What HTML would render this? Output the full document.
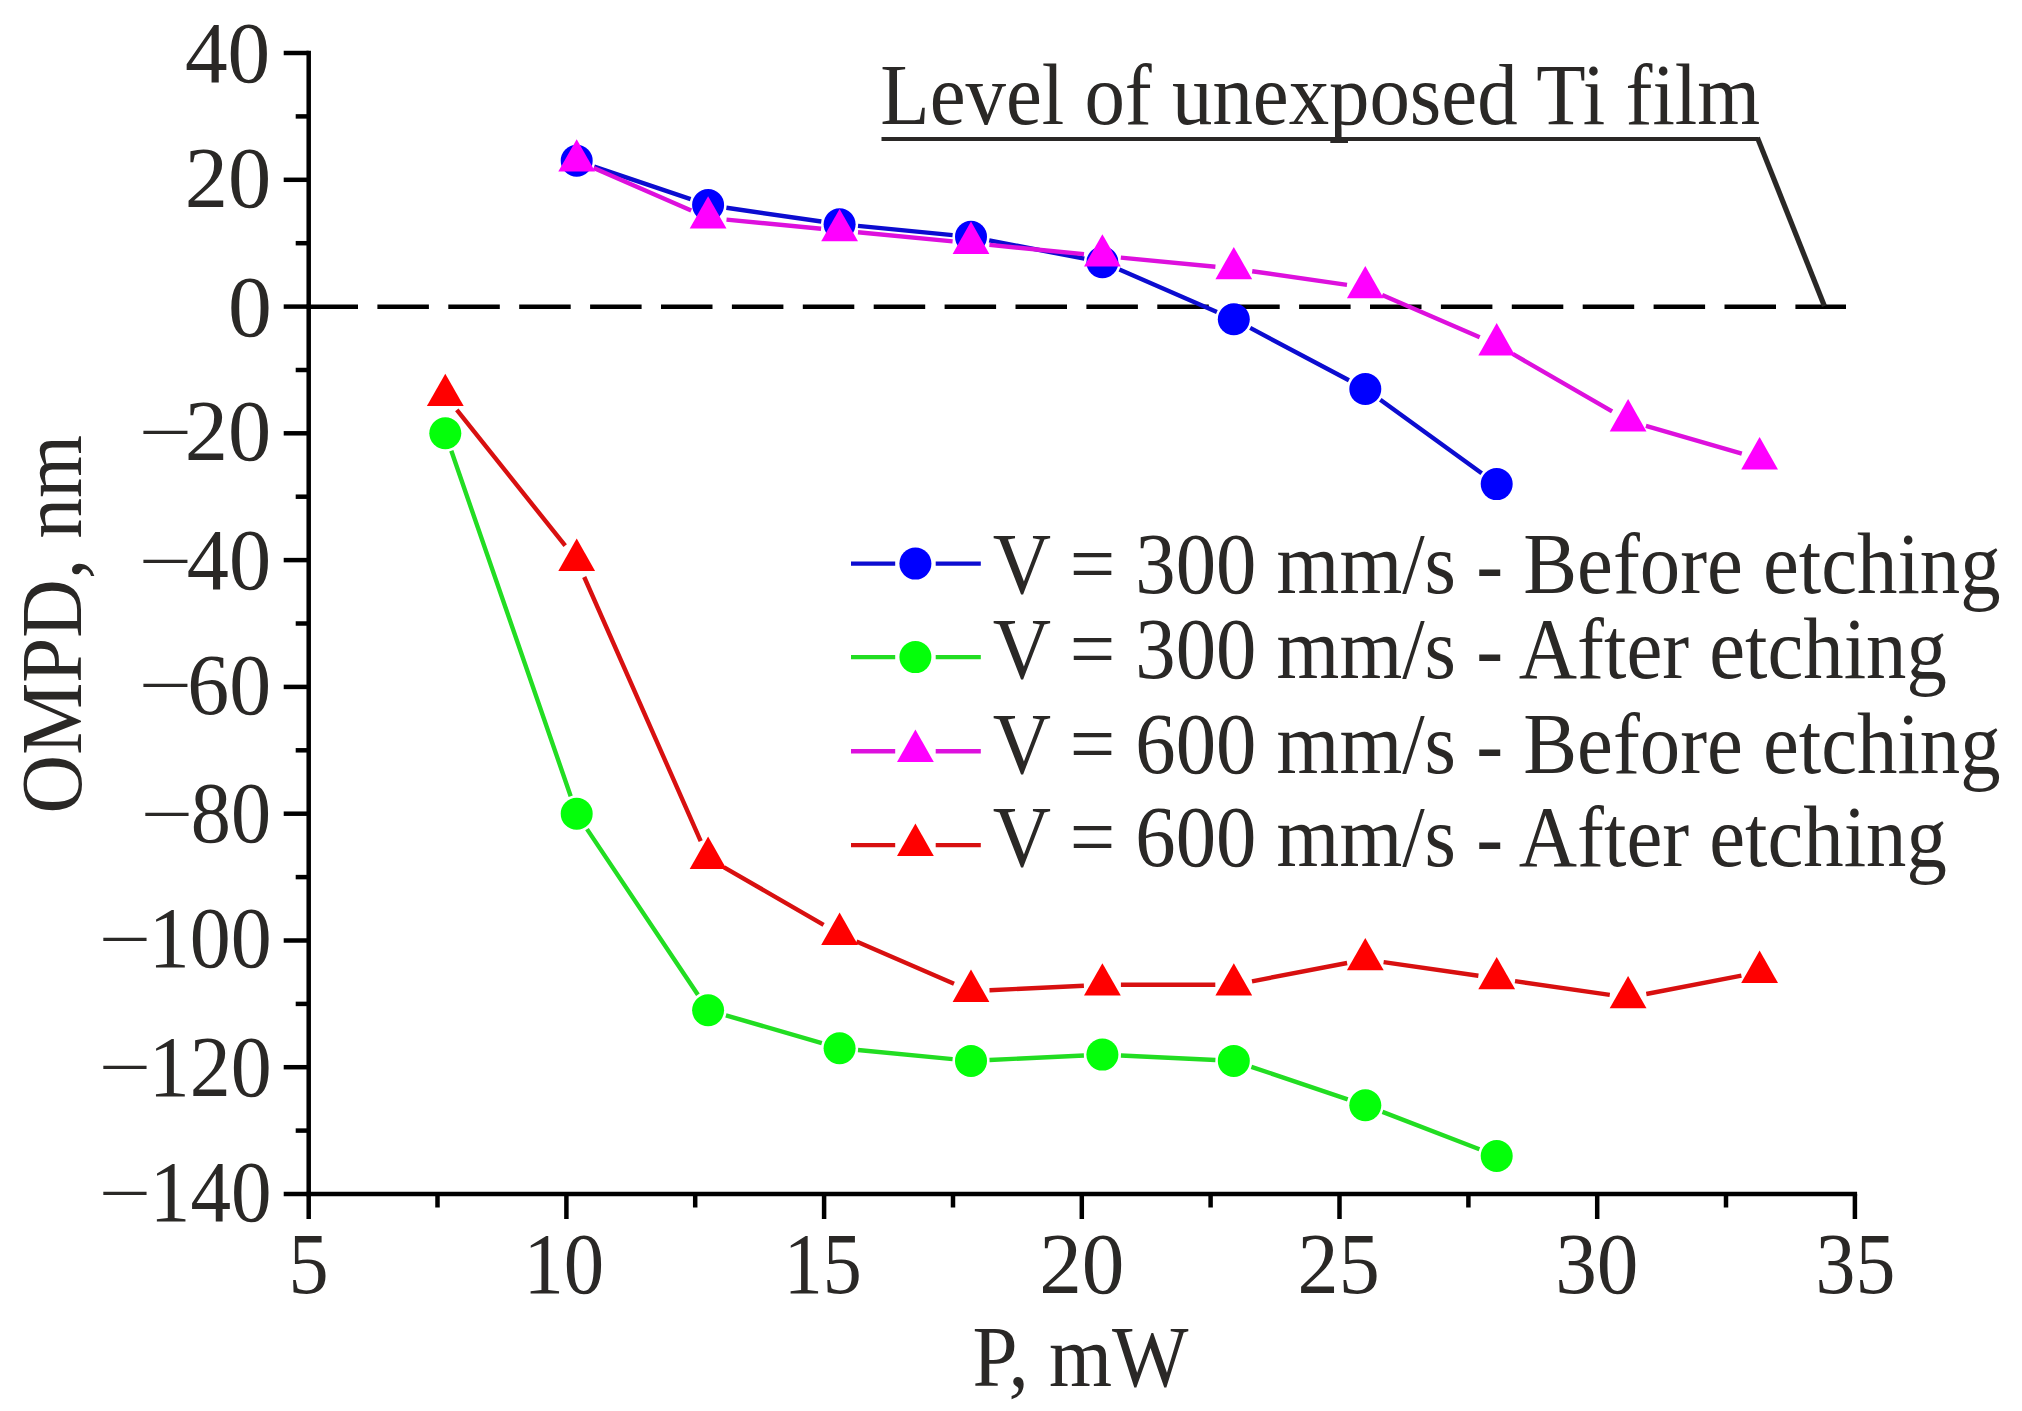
<!DOCTYPE html>
<html><head><meta charset="utf-8"><title>OMPD vs P</title>
<style>html,body{margin:0;padding:0;background:#fff;overflow:hidden;}svg{display:block;}</style></head>
<body><svg width="2022" height="1411" viewBox="0 0 2022 1411">
<rect width="2022" height="1411" fill="#fff"/>
<line x1="306.5" y1="306.7" x2="1846" y2="306.7" stroke="#000" stroke-width="4.6" stroke-dasharray="51.5 19.4"/>
<g stroke="#000" stroke-width="4.5" fill="none">
<line x1="308.7" y1="50.8" x2="308.7" y2="1196.2"/>
<line x1="306.5" y1="1194.0" x2="1857.1" y2="1194.0"/>
<line x1="283.7" y1="1194.0" x2="308.7" y2="1194.0"/>
<line x1="295.7" y1="1130.6" x2="308.7" y2="1130.6"/>
<line x1="283.7" y1="1067.2" x2="308.7" y2="1067.2"/>
<line x1="295.7" y1="1003.9" x2="308.7" y2="1003.9"/>
<line x1="283.7" y1="940.5" x2="308.7" y2="940.5"/>
<line x1="295.7" y1="877.1" x2="308.7" y2="877.1"/>
<line x1="283.7" y1="813.7" x2="308.7" y2="813.7"/>
<line x1="295.7" y1="750.3" x2="308.7" y2="750.3"/>
<line x1="283.7" y1="686.9" x2="308.7" y2="686.9"/>
<line x1="295.7" y1="623.5" x2="308.7" y2="623.5"/>
<line x1="283.7" y1="560.1" x2="308.7" y2="560.1"/>
<line x1="295.7" y1="496.7" x2="308.7" y2="496.7"/>
<line x1="283.7" y1="433.3" x2="308.7" y2="433.3"/>
<line x1="295.7" y1="370.0" x2="308.7" y2="370.0"/>
<line x1="283.7" y1="306.6" x2="308.7" y2="306.6"/>
<line x1="295.7" y1="243.2" x2="308.7" y2="243.2"/>
<line x1="283.7" y1="179.8" x2="308.7" y2="179.8"/>
<line x1="295.7" y1="116.4" x2="308.7" y2="116.4"/>
<line x1="283.7" y1="53.0" x2="308.7" y2="53.0"/>
<line x1="308.7" y1="1194.0" x2="308.7" y2="1219.0"/>
<line x1="437.5" y1="1194.0" x2="437.5" y2="1207.5"/>
<line x1="566.4" y1="1194.0" x2="566.4" y2="1219.0"/>
<line x1="695.2" y1="1194.0" x2="695.2" y2="1207.5"/>
<line x1="824.1" y1="1194.0" x2="824.1" y2="1219.0"/>
<line x1="953.0" y1="1194.0" x2="953.0" y2="1207.5"/>
<line x1="1081.8" y1="1194.0" x2="1081.8" y2="1219.0"/>
<line x1="1210.6" y1="1194.0" x2="1210.6" y2="1207.5"/>
<line x1="1339.5" y1="1194.0" x2="1339.5" y2="1219.0"/>
<line x1="1468.4" y1="1194.0" x2="1468.4" y2="1207.5"/>
<line x1="1597.2" y1="1194.0" x2="1597.2" y2="1219.0"/>
<line x1="1726.0" y1="1194.0" x2="1726.0" y2="1207.5"/>
<line x1="1854.9" y1="1194.0" x2="1854.9" y2="1219.0"/>
</g>
<path d="M881.5 139.1H1758.5" fill="none" stroke="#2a2826" stroke-width="4"/>
<path d="M1757.4 137.6L1824.4 306" fill="none" stroke="#2a2826" stroke-width="5.2"/>
<path d="M594.2 166.7L690.6 199.2M726.4 207.8L821.3 221.5M858.0 225.9L952.6 235.1M989.2 240.3L1084.3 258.7M1119.4 269.6L1216.9 311.9M1250.2 327.9L1348.9 380.3M1380.3 399.8L1481.7 473.2" stroke="#0c0cd0" stroke-width="4.4" fill="none"/>
<path d="M451.3 450.8L570.7 796.2M587.0 829.1L697.9 994.8M725.9 1015.3L821.8 1043.1M858.0 1050.0L952.6 1059.1M989.5 1060.0L1083.9 1055.5M1120.9 1055.5L1215.4 1060.0M1251.4 1066.8L1347.7 1099.4M1382.5 1111.9L1479.4 1149.3" stroke="#22dd22" stroke-width="4.4" fill="none"/>
<path d="M593.7 168.1L691.2 210.4M726.5 219.6L821.1 228.7M858.0 232.3L952.6 241.4M989.4 244.9L1084.0 254.1M1120.8 257.6L1215.4 266.7M1252.2 271.2L1347.0 284.9M1382.2 294.9L1479.7 337.2M1512.7 353.9L1612.1 411.4M1645.9 425.8L1741.8 453.6" stroke="#dd10dd" stroke-width="4.4" fill="none"/>
<path d="M456.8 409.8L565.2 545.7M584.2 577.0L700.7 841.1M724.1 867.3L823.6 924.9M856.5 941.5L954.0 983.8M989.5 990.3L1083.9 985.7M1120.9 984.8L1215.3 984.8M1252.0 981.3L1347.1 963.0M1383.6 962.1L1478.4 975.8M1515.0 981.1L1609.8 994.9M1646.3 994.0L1741.4 975.7" stroke="#d81010" stroke-width="4.4" fill="none"/>
<circle cx="576.7" cy="160.8" r="16" fill="#0000ff"/>
<circle cx="708.1" cy="205.1" r="16" fill="#0000ff"/>
<circle cx="839.6" cy="224.2" r="16" fill="#0000ff"/>
<circle cx="971.0" cy="236.8" r="16" fill="#0000ff"/>
<circle cx="1102.4" cy="262.2" r="16" fill="#0000ff"/>
<circle cx="1233.8" cy="319.2" r="16" fill="#0000ff"/>
<circle cx="1365.3" cy="389.0" r="16" fill="#0000ff"/>
<circle cx="1496.7" cy="484.1" r="16" fill="#0000ff"/>
<circle cx="445.3" cy="433.3" r="16" fill="#04ff0a"/>
<circle cx="576.7" cy="813.7" r="16" fill="#04ff0a"/>
<circle cx="708.1" cy="1010.2" r="16" fill="#04ff0a"/>
<circle cx="839.6" cy="1048.2" r="16" fill="#04ff0a"/>
<circle cx="971.0" cy="1060.9" r="16" fill="#04ff0a"/>
<circle cx="1102.4" cy="1054.6" r="16" fill="#04ff0a"/>
<circle cx="1233.8" cy="1060.9" r="16" fill="#04ff0a"/>
<circle cx="1365.3" cy="1105.3" r="16" fill="#04ff0a"/>
<circle cx="1496.7" cy="1156.0" r="16" fill="#04ff0a"/>
<polygon points="576.7,139.2 595.1,171.6 558.3,171.6" fill="#ff00ff"/>
<polygon points="708.1,196.2 726.5,228.6 689.7,228.6" fill="#ff00ff"/>
<polygon points="839.6,208.9 858.0,241.3 821.2,241.3" fill="#ff00ff"/>
<polygon points="971.0,221.6 989.4,254.0 952.6,254.0" fill="#ff00ff"/>
<polygon points="1102.4,234.2 1120.8,266.6 1084.0,266.6" fill="#ff00ff"/>
<polygon points="1233.8,246.9 1252.2,279.3 1215.4,279.3" fill="#ff00ff"/>
<polygon points="1365.3,265.9 1383.7,298.3 1346.9,298.3" fill="#ff00ff"/>
<polygon points="1496.7,323.0 1515.1,355.4 1478.3,355.4" fill="#ff00ff"/>
<polygon points="1628.1,399.1 1646.5,431.5 1609.7,431.5" fill="#ff00ff"/>
<polygon points="1759.6,437.1 1778.0,469.5 1741.2,469.5" fill="#ff00ff"/>
<polygon points="445.3,373.7 463.7,406.1 426.9,406.1" fill="#ff0000"/>
<polygon points="576.7,538.5 595.1,570.9 558.3,570.9" fill="#ff0000"/>
<polygon points="708.1,836.5 726.5,868.9 689.7,868.9" fill="#ff0000"/>
<polygon points="839.6,912.5 858.0,944.9 821.2,944.9" fill="#ff0000"/>
<polygon points="971.0,969.6 989.4,1002.0 952.6,1002.0" fill="#ff0000"/>
<polygon points="1102.4,963.2 1120.8,995.6 1084.0,995.6" fill="#ff0000"/>
<polygon points="1233.8,963.2 1252.2,995.6 1215.4,995.6" fill="#ff0000"/>
<polygon points="1365.3,937.9 1383.7,970.3 1346.9,970.3" fill="#ff0000"/>
<polygon points="1496.7,956.9 1515.1,989.3 1478.3,989.3" fill="#ff0000"/>
<polygon points="1628.1,975.9 1646.5,1008.3 1609.7,1008.3" fill="#ff0000"/>
<polygon points="1759.6,950.6 1778.0,983.0 1741.2,983.0" fill="#ff0000"/>
<path d="M851 563.6H895.2M935.7 563.6H980.8" stroke="#0c0cd0" stroke-width="4.4" fill="none"/>
<circle cx="915.4" cy="563.6" r="16" fill="#0000ff"/>
<path d="M851 657.1H895.2M935.7 657.1H980.8" stroke="#22dd22" stroke-width="4.4" fill="none"/>
<circle cx="915.4" cy="657.1" r="16" fill="#04ff0a"/>
<path d="M851 751.2H895.2M935.7 751.2H980.8" stroke="#dd10dd" stroke-width="4.4" fill="none"/>
<polygon points="915.4,729.6 933.8,762.0 897.0,762.0" fill="#ff00ff"/>
<path d="M851 845.1H895.2M935.7 845.1H980.8" stroke="#d81010" stroke-width="4.4" fill="none"/>
<polygon points="915.4,823.5 933.8,855.9 897.0,855.9" fill="#ff0000"/>
<g fill="#2a2826" font-family="'Liberation Serif', 'Times New Roman', serif" font-size="87"><text transform="translate(184.94,82.00) scale(0.9805,1)">40</text><text transform="translate(184.83,207.05) scale(0.9938,1)">20</text><text transform="translate(227.98,335.60) scale(1.0081,1)">0</text><text transform="translate(184.83,460.05) scale(0.9938,1)">20</text><text transform="translate(138.65,452.73) scale(1.0878,0.72)">−</text><text transform="translate(186.86,588.85) scale(0.9695,1)">40</text><text transform="translate(138.65,581.53) scale(1.0878,0.72)">−</text><text transform="translate(187.34,713.80) scale(0.9638,1)">60</text><text transform="translate(138.65,706.48) scale(1.0878,0.72)">−</text><text transform="translate(190.83,842.45) scale(0.9222,1)">80</text><text transform="translate(140.73,835.13) scale(1.0683,0.72)">−</text><text transform="translate(148.77,967.05) scale(0.9412,1)">100</text><text transform="translate(98.83,959.73) scale(1.0683,0.72)">−</text><text transform="translate(148.77,1095.60) scale(0.9412,1)">120</text><text transform="translate(98.83,1088.28) scale(1.0683,0.72)">−</text><text transform="translate(149.84,1220.90) scale(0.9328,1)">140</text><text transform="translate(98.83,1213.58) scale(1.0683,0.72)">−</text><text transform="translate(288.49,1293.30) scale(0.9229,1)">5</text><text transform="translate(523.47,1293.30) scale(0.9289,1)">10</text><text transform="translate(783.82,1293.30) scale(0.8974,1)">15</text><text transform="translate(1039.18,1293.30) scale(0.9800,1)">20</text><text transform="translate(1297.62,1293.30) scale(0.9437,1)">25</text><text transform="translate(1555.17,1293.30) scale(0.9575,1)">30</text><text transform="translate(1815.53,1293.30) scale(0.9175,1)">35</text><text transform="translate(972.51,1386.00) scale(0.9314,1)">P, mW</text><text transform="translate(880.31,123.60) scale(0.9290,1)">Level of unexposed Ti film</text><text transform="translate(992.67,593.00) scale(0.9279,1)">V = 300 mm/s - Before etching</text><text transform="translate(992.67,678.40) scale(0.9279,1)">V = 300 mm/s - After etching</text><text transform="translate(992.67,772.60) scale(0.9279,1)">V = 600 mm/s - Before etching</text><text transform="translate(992.67,866.20) scale(0.9279,1)">V = 600 mm/s - After etching</text><text transform="translate(81.00,813.43) rotate(-90) scale(0.9322,1)">OMPD, nm</text></g>
</svg></body></html>
